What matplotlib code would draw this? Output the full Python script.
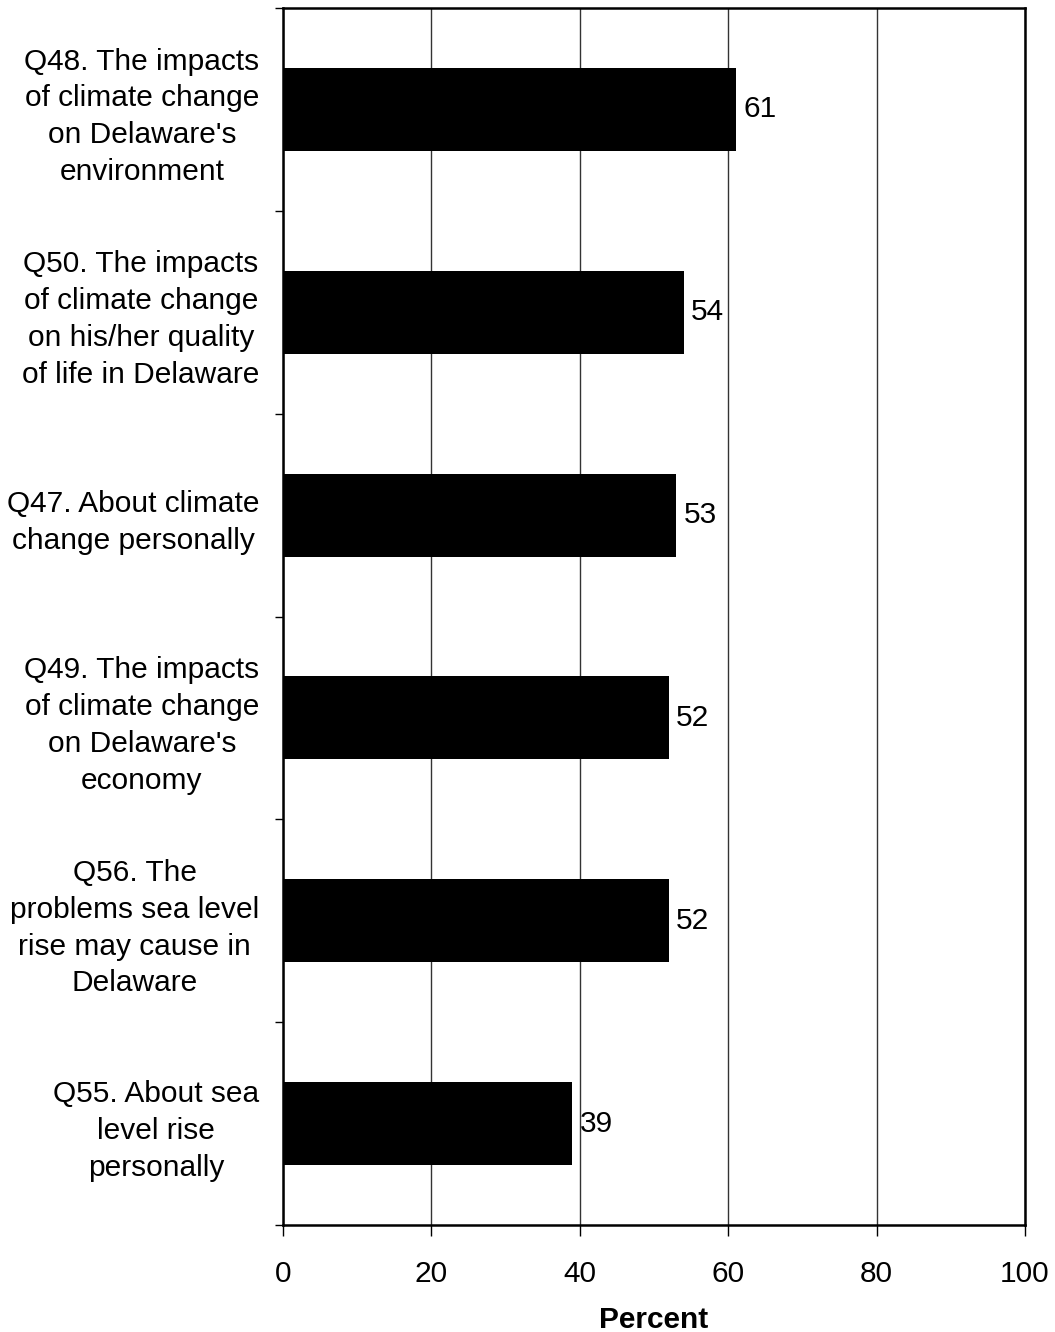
import matplotlib
matplotlib.use("Agg")
import matplotlib.pyplot as plt
import numpy as np

plt.rcParams['font.family'] = ['Liberation Sans', 'DejaVu Sans']

categories = [
    "Q48. The impacts\nof climate change\non Delaware's\nenvironment",
    "Q50. The impacts\nof climate change\non his/her quality\nof life in Delaware",
    "Q47. About climate\nchange personally",
    "Q49. The impacts\nof climate change\non Delaware's\neconomy",
    "Q56. The\nproblems sea level\nrise may cause in\nDelaware",
    "Q55. About sea\nlevel rise\npersonally",
]
values = [61, 54, 53, 52, 52, 39]
xticks = [0, 20, 40, 60, 80, 100]

FS = 21.5

fig = plt.figure(figsize=(10.55, 13.32), dpi=100)
ax = fig.add_axes([283/1055, 1-1225/1332, (1025-283)/1055, (1225-8)/1332])

n = len(categories)
y = np.arange(n)
ax.barh(y, values, height=0.41, color='black', zorder=3)
ax.set_ylim(n - 0.5, -0.5)
ax.set_xlim(0, 100)

ax.set_xticks(xticks)
ax.set_xticklabels([str(t) for t in xticks], fontsize=FS)
ax.tick_params(axis='x', direction='out', length=8, width=1, pad=17)

ax.set_yticks(np.arange(n + 1) - 0.5)
ax.set_yticklabels([])
ax.tick_params(axis='y', which='major', direction='out', length=6, width=1)
ax.set_yticks(y, minor=True)
ax.set_yticklabels(categories, minor=True, fontsize=FS, multialignment='center',
                   linespacing=1.4)
ax.tick_params(axis='y', which='minor', length=0, pad=17)

ax.xaxis.grid(True, color='#333333', linewidth=1, zorder=0)
ax.yaxis.grid(False)
for s in ax.spines.values():
    s.set_linewidth(1.8)
    s.set_color('black')

for yi, v in zip(y, values):
    ax.text(v + 1.0, yi, str(v), va='center', ha='left', fontsize=FS)

ax.set_xlabel("Percent", fontsize=FS, fontweight='bold', labelpad=13)

fig.savefig("out.png", dpi=100)
